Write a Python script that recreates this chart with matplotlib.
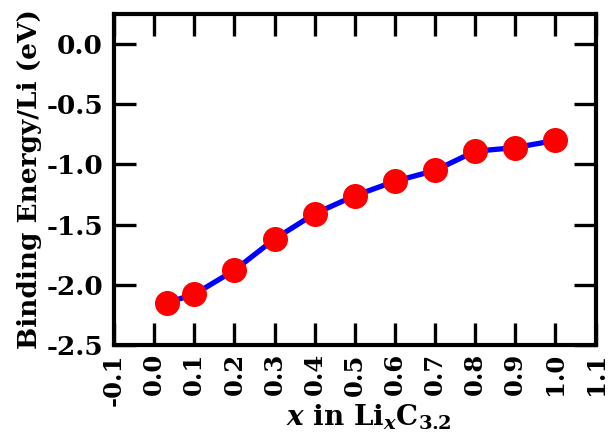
import matplotlib
matplotlib.use('Agg')
import matplotlib.pyplot as plt

plt.rcParams['font.family'] = 'DejaVu Serif'
plt.rcParams['font.weight'] = 'bold'
plt.rcParams['mathtext.fontset'] = 'custom'
plt.rcParams['mathtext.rm'] = 'DejaVu Serif:bold'
plt.rcParams['mathtext.it'] = 'DejaVu Serif:bold:italic'
plt.rcParams['mathtext.bf'] = 'DejaVu Serif:bold'

# Li content x and binding energy per Li (eV)
x_li = [0.03125, 0.1, 0.2, 0.3, 0.4, 0.5, 0.6, 0.7, 0.8, 0.9, 1.0]
binding_energy = [-2.15, -2.08, -1.88, -1.62, -1.41, -1.26, -1.14, -1.05, -0.89, -0.86, -0.80]

x_ticks = [-0.1, 0.0, 0.1, 0.2, 0.3, 0.4, 0.5, 0.6, 0.7, 0.8, 0.9, 1.0, 1.1]
y_ticks = [0.0, -0.5, -1.0, -1.5, -2.0, -2.5]

fig = plt.figure(figsize=(6.08, 4.41), dpi=100)
ax = fig.add_axes([0.1875, 0.218, 0.792, 0.750])

ax.plot(x_li, binding_energy, color='blue', lw=3.8, marker='o',
        ms=17, mfc='red', mec='red', zorder=3)

ax.set_xlim(-0.1, 1.1)
ax.set_ylim(-2.5, 0.25)
ax.set_xticks(x_ticks)
ax.set_yticks(y_ticks)
ax.set_xticklabels([f'{v:.1f}' for v in x_ticks], rotation=90)
ax.set_yticklabels([f'{v:.1f}' for v in y_ticks])

for s in ax.spines.values():
    s.set_linewidth(3)
ax.tick_params(direction='in', length=16, width=2.4, top=True, right=True)
ax.tick_params(axis='y', labelsize=19, pad=8)
ax.tick_params(axis='x', labelsize=17.5, pad=6)

ax.set_xlabel(r'$x$ in Li$_x$C$_{3.2}$', fontsize=20, fontweight='bold')
ax.xaxis.set_label_coords(0.53, -0.175)
ax.set_ylabel('Binding Energy/Li (eV)', fontsize=19, fontweight='bold', labelpad=3)

fig.savefig('out.png', dpi=100)
